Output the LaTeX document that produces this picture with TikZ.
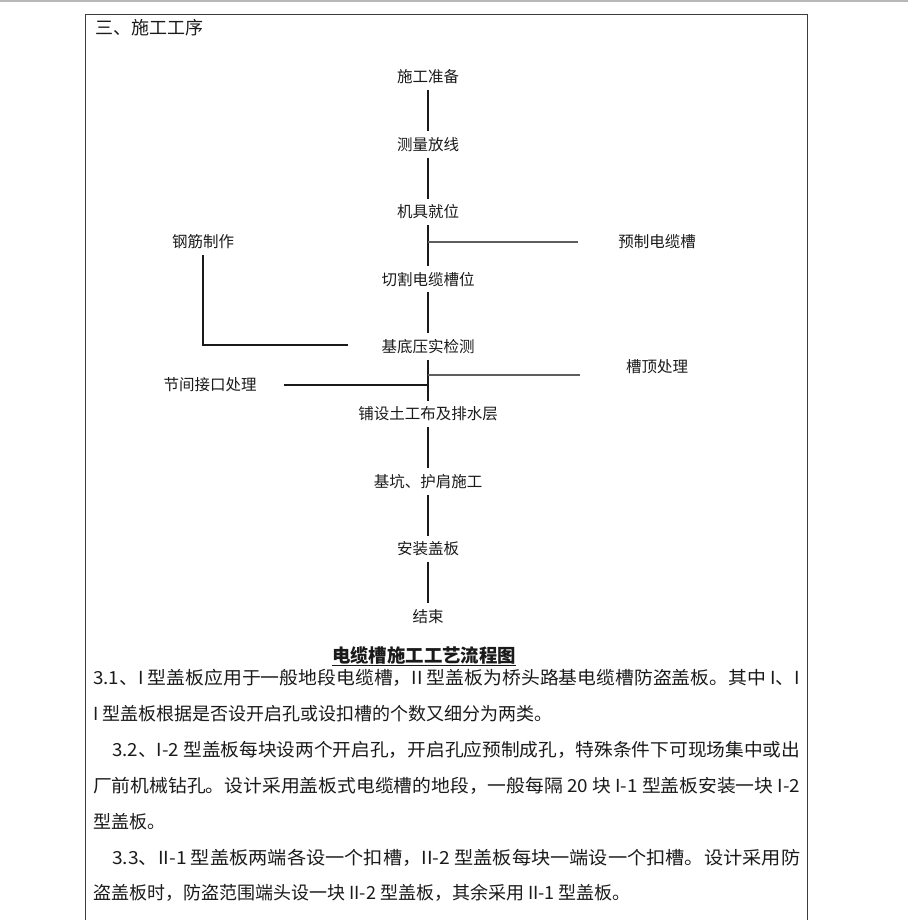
\documentclass[tikz,border=0pt]{standalone}
\usepackage{fontspec}
\setmainfont{Noto Sans CJK SC}
\usepackage{graphicx}
\usepackage{tikz}
\usetikzlibrary{positioning,calc}
\definecolor{lnblack}{HTML}{1A1A1A}
\definecolor{lngray}{HTML}{5E5E5E}
\definecolor{framegray}{HTML}{3C3C3C}
% stretch one printed line to the width of the cell
\newcommand{\fitline}[2]{\resizebox{#1}{\height}{#2}}

\begin{document}
\begin{tikzpicture}[x=1pt, y=-1pt,
  proc/.style={inner sep=0pt, minimum height=26pt, text=lnblack,
    font=\fontsize{15.5}{18}\selectfont},
  body/.style={inner sep=0pt, anchor=base west, text=lnblack,
    font=\fontsize{18}{22}\selectfont},
  link/.style={draw=lnblack, line width=1.1pt},
  sidelink/.style={draw=lngray, line width=1.3pt}]
\useasboundingbox (0,0) rectangle (908,920);
% page strip and the table cell
\fill[black!28] (0,0) rectangle (908,2.5);
\draw[framegray, line width=0.9pt] (85.5,921) -- (85.5,14.5) -- (807,14.5) -- (807,921);
\node[body, anchor=west] (title) at (95,27.5) {三、施工工序};
% main chain
\node[proc] (zb) at (428,77) {施工准备};
\node[proc, below=41pt of zb] (cl) {测量放线};
\node[proc, below=41pt of cl] (jj) {机具就位};
\node[proc, below=41pt of jj] (qg) {切割电缆槽位};
\node[proc, below=41pt of qg] (jd) {基底压实检测};
\node[proc, below=41pt of jd] (pt) {铺设土工布及排水层};
\node[proc, below=41pt of pt] (hj) {基坑、护肩施工};
\node[proc, below=41pt of hj] (az) {安装盖板};
\node[proc, below=41pt of az] (js) {结束};
\foreach \a/\b in {zb/cl, cl/jj, jj/qg, qg/jd, jd/pt, pt/hj, hj/az, az/js}
  \draw[link] (\a) -- (\b);
% side works
\node[proc] (yz) at (657,242) {预制电缆槽};
\node[proc] (gj) at (203,242) {钢筋制作};
\node[proc] (cd) at (657,367) {槽顶处理};
\node[proc] (jk) at (210,385) {节间接口处理};
\coordinate (yzend) at (578,242);
\coordinate (gjend) at (348,345);
\coordinate (cdend) at (580,375);
\coordinate (jkend) at (284,385);
\draw[sidelink] (jj.center |- yzend) -- (yzend);
\draw[link] (gj.south) |- (gjend);
\draw[sidelink] (jd.center |- cdend) -- (cdend);
\draw[link] (jkend) -- (jd.center |- jkend);
% caption
\node[inner sep=0pt, text=lnblack, font=\fontsize{18.4}{22}\selectfont\bfseries]
  (cap) at (424,655) {电缆槽施工工艺流程图};
\draw[lnblack, line width=0.9pt] ([yshift=-3pt]cap.base west) -- ([yshift=-3pt]cap.base east);
% text of the cell
\node[body] (p1) at (93,684) {\fitline{707pt}{3.1、I 型盖板应用于一般地段电缆槽，II 型盖板为桥头路基电缆槽防盗盖板。其中 I、I}};
\node[body] (p2) at (93,720) {I 型盖板根据是否设开启孔或设扣槽的个数又细分为两类。};
\node[body] (p3) at (112,756) {\fitline{688pt}{3.2、I-2 型盖板每块设两个开启孔，开启孔应预制成孔，特殊条件下可现场集中或出}};
\node[body] (p4) at (93,792) {\fitline{707pt}{厂前机械钻孔。设计采用盖板式电缆槽的地段，一般每隔 20 块 I-1 型盖板安装一块 I-2}};
\node[body] (p5) at (93,828) {型盖板。};
\node[body] (p6) at (112,864) {\fitline{688pt}{3.3、II-1 型盖板两端各设一个扣槽，II-2 型盖板每块一端设一个扣槽。设计采用防}};
\node[body] (p7) at (93,899) {盗盖板时，防盗范围端头设一块 II-2 型盖板，其余采用 II-1 型盖板。};
\end{tikzpicture}
\end{document}
